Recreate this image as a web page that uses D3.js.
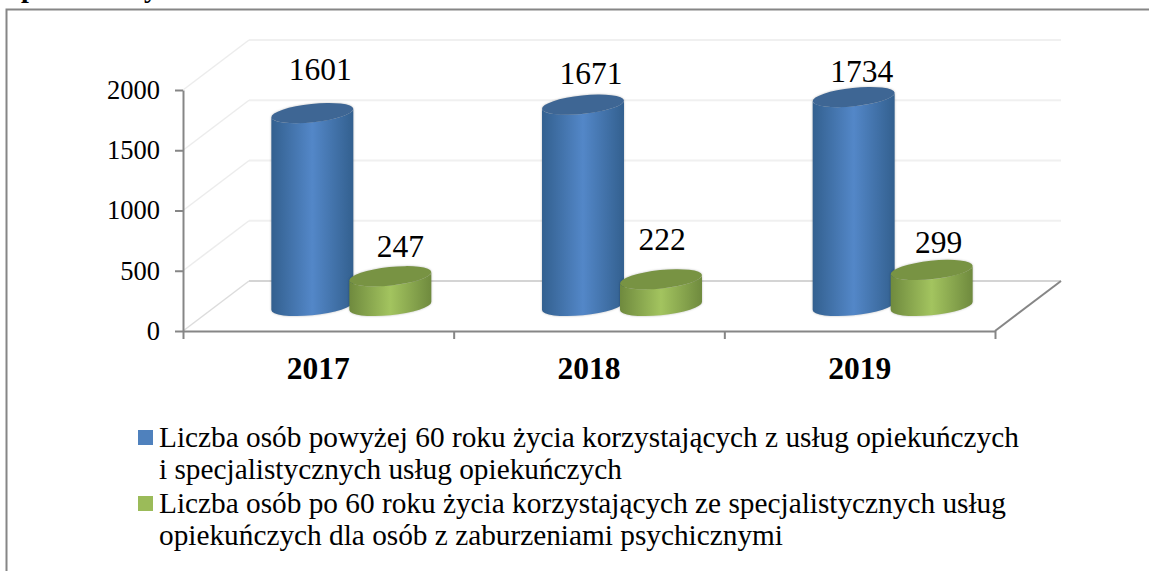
<!DOCTYPE html>
<html lang="pl">
<head>
<meta charset="utf-8">
<script src="https://cdn.jsdelivr.net/npm/d3@7"></script>
<style>
  html, body { margin: 0; padding: 0; background: #fff; overflow: hidden; }
  text { font-family: "Liberation Serif", serif; fill: #000; }
</style>
</head>
<body>
<div id="my_dataviz"></div>
<script>
const years = ["2017", "2018", "2019"];
const seriesKeys = ["over60", "psych"];
const over60 = [1601, 1671, 1734];
const psych = [247, 222, 299];
const yTicks = [0, 500, 1000, 1500, 2000];
const legendLines = [
    ["Liczba osób powyżej 60 roku życia korzystających z usług opiekuńczych", "i specjalistycznych usług opiekuńczych"],
    ["Liczba osób po 60 roku życia korzystających ze specjalistycznych usług", "opiekuńczych dla osób z zaburzeniami psychicznymi"]
];

const width = 1149, height = 571;
const plot = {left: 183, right: 995, top: 90, bottom: 331};
const depth = {x: 66, y: -50};   // shift from the front of the 3d box to the back wall

// hand placed data labels in the original: shift from the middle of the bar top
const labelShift = {
    over60: [[8, -33], [8, -21], [8, -15]],
    psych: [[10, -19], [1, -29], [7, -17]]
};

const colors = {
    over60: {edge: "#33608f", mid: "#5387c8", top: "#3e6694", legend: "#4f81bd"},
    psych: {edge: "#6f8a3e", mid: "#a3c45f", top: "#789343", legend: "#9bbb59"}
};

const svg = d3.select("#my_dataviz")
    .append("svg")
    .attr("width", width)
    .attr("height", height)
    .style("display", "block");

const x = d3.scaleBand().domain(years).range([plot.left, plot.right]);
const xEdges = d3.scaleLinear().domain([0, years.length]).range([plot.left, plot.right]);
const y = d3.scaleLinear().domain([0, 2000]).range([plot.bottom, plot.top]);
const xInner = d3.scalePoint().domain(seriesKeys).range([-39, 39]);

// outer frame, it runs off the right and bottom of the picture
svg.append("path")
    .attr("d", `M6.5,${height}V9.5H${width}`)
    .attr("fill", "none")
    .attr("stroke", "#868686")
    .attr("stroke-width", 2);

// bits of the heading line cut off by the crop
svg.selectAll(".cut")
    .data([["p", 21], ["y", 144]])
    .join("text")
    .attr("class", "cut")
    .attr("x", d => d[1])
    .attr("y", -3)
    .attr("font-size", 28)
    .attr("font-weight", "bold")
    .text(d => d[0]);

// back wall
svg.selectAll(".grid")
    .data(yTicks)
    .join("line")
    .attr("class", "grid")
    .attr("x1", plot.left + depth.x)
    .attr("x2", plot.right + depth.x)
    .attr("y1", d => y(d) + depth.y)
    .attr("y2", d => y(d) + depth.y)
    .attr("stroke", d => d == 0 ? "#d4d4d4" : "#f0f0f0")
    .attr("stroke-width", 2);

// left wall
svg.selectAll(".side")
    .data(yTicks)
    .join("line")
    .attr("class", "side")
    .attr("x1", plot.left)
    .attr("x2", plot.left + depth.x)
    .attr("y1", d => y(d))
    .attr("y2", d => y(d) + depth.y)
    .attr("stroke", d => d == 0 ? "#dcdcdc" : "#ececec")
    .attr("stroke-width", 1.5);

// right floor edge
svg.append("line")
    .attr("x1", plot.right)
    .attr("x2", plot.right + depth.x)
    .attr("y1", y(0))
    .attr("y2", y(0) + depth.y)
    .attr("stroke", "#868686")
    .attr("stroke-width", 2);

const yAxis = svg.append("g")
    .attr("transform", `translate(${plot.left},0)`)
    .call(d3.axisLeft(y).tickValues(yTicks).tickSizeInner(8).tickSizeOuter(0).tickPadding(15).tickFormat(d3.format("d")));

const xAxis = svg.append("g")
    .attr("transform", `translate(0,${plot.bottom})`)
    .call(d3.axisBottom(xEdges).tickValues(d3.range(years.length + 1)).tickSizeInner(8).tickSizeOuter(0).tickFormat(""));

svg.selectAll(".domain, .tick line")
    .attr("stroke", "#868686")
    .attr("stroke-width", 2);

yAxis.selectAll("text")
    .attr("font-size", 26.5)
    .attr("font-family", "Liberation Serif")
    .attr("fill", "#000");

svg.selectAll(".year")
    .data(years)
    .join("text")
    .attr("class", "year")
    .attr("x", d => x(d) + x.bandwidth() / 2)
    .attr("y", 379)
    .attr("text-anchor", "middle")
    .attr("font-size", 31.5)
    .attr("font-weight", "bold")
    .text(d => d);

// cylinder shading
const defs = svg.append("defs");
seriesKeys.forEach(function(key) {
    const g = defs.append("linearGradient").attr("id", "grad-" + key);
    g.append("stop").attr("offset", "0%").attr("stop-color", colors[key].edge);
    g.append("stop").attr("offset", "50%").attr("stop-color", colors[key].mid);
    g.append("stop").attr("offset", "100%").attr("stop-color", colors[key].edge);
});

const rx = 41.2, ry = 9.2, tilt = 6;
const tiltRad = tilt * Math.PI / 180;
const sideX = Math.sqrt(rx * rx * Math.cos(tiltRad) ** 2 + ry * ry * Math.sin(tiltRad) ** 2);
const sideY = (rx * rx - ry * ry) * Math.sin(tiltRad) * Math.cos(tiltRad) / sideX;

function body(cx, yTop, yBase) {
    return `M${cx - sideX},${yTop + sideY}` +
        `L${cx - sideX},${yBase + sideY}` +
        `A${rx},${ry} ${-tilt} 0 0 ${cx + sideX},${yBase - sideY}` +
        `L${cx + sideX},${yTop - sideY}` +
        `A${rx},${ry} ${-tilt} 0 1 ${cx - sideX},${yTop + sideY}Z`;
}

const bars = [];
years.forEach(function(year, i) {
    bars.push({key: "over60", year: year, i: i, value: over60[i]});
    bars.push({key: "psych", year: year, i: i, value: psych[i]});
});

const barX = d => x(d.year) + x.bandwidth() / 2 + depth.x / 2 + xInner(d.key);
const barBase = y(0) + depth.y / 2;
const barTop = d => y(d.value) + depth.y / 2;

const bar = svg.selectAll(".bar")
    .data(bars)
    .join("g")
    .attr("class", "bar")
    .style("filter", "drop-shadow(0.5px 0 1px rgba(0,0,0,0.25))");

bar.append("path")
    .attr("d", d => body(barX(d), barTop(d), barBase))
    .attr("fill", d => `url(#grad-${d.key})`);

bar.append("ellipse")
    .attr("rx", rx)
    .attr("ry", ry)
    .attr("transform", d => `translate(${barX(d)},${barTop(d)}) rotate(${-tilt})`)
    .attr("fill", d => colors[d.key].top);

svg.selectAll(".value")
    .data(bars)
    .join("text")
    .attr("class", "value")
    .attr("x", d => barX(d) + labelShift[d.key][d.i][0])
    .attr("y", d => barTop(d) + labelShift[d.key][d.i][1])
    .attr("text-anchor", "middle")
    .attr("font-size", 31.5)
    .text(d => d.value);

// legend
const legendTop = [447, 513];
const legend = svg.selectAll(".legend")
    .data(seriesKeys)
    .join("g")
    .attr("class", "legend")
    .attr("transform", (d, i) => `translate(138,${legendTop[i]})`);

legend.append("rect")
    .attr("y", -17)
    .attr("width", 15)
    .attr("height", 15)
    .attr("fill", d => colors[d].legend);

legend.each(function(d, i) {
    d3.select(this).selectAll("text")
        .data(legendLines[i])
        .join("text")
        .attr("x", 21)
        .attr("y", (line, j) => j * 32)
        .attr("font-size", 29.3)
        .text(line => line);
});
</script>
</body>
</html>
